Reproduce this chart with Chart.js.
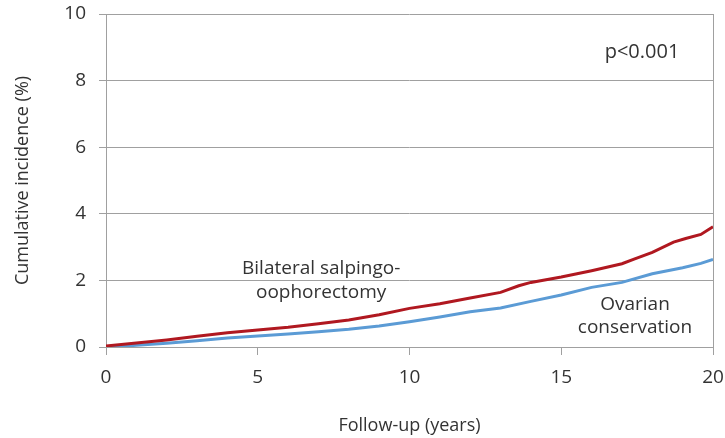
<!DOCTYPE html>
<html>
<head>
<meta charset="utf-8">
<script src="https://cdn.jsdelivr.net/npm/chart.js@4"></script>
<style>
  html, body { margin: 0; padding: 0; background: #fff; }
  #wrap { width: 725px; height: 438px; }
</style>
</head>
<body>
<div id="wrap"><canvas id="c" width="725" height="438"></canvas></div>
<script>
// ---- data ----
const bsoYears  = [0, 1, 2, 3, 4, 5, 6, 7, 8, 9, 10, 11, 12, 13, 13.6, 14, 15, 16, 17, 17.4, 18, 18.7, 19.1, 19.6, 20];
const bsoValues = [0.03, 0.12, 0.21, 0.32, 0.43, 0.51, 0.59, 0.70, 0.81, 0.97, 1.16, 1.30, 1.47, 1.64, 1.84, 1.94, 2.10, 2.29, 2.50, 2.64, 2.84, 3.15, 3.26, 3.38, 3.61];
const ovYears   = [0, 1, 2, 3, 4, 5, 6, 7, 8, 9, 10, 11, 12, 13, 14, 15, 16, 17, 18, 19, 19.6, 20];
const ovValues  = [0.00, 0.05, 0.11, 0.19, 0.27, 0.33, 0.39, 0.46, 0.53, 0.63, 0.76, 0.90, 1.06, 1.17, 1.37, 1.56, 1.79, 1.94, 2.20, 2.38, 2.51, 2.63];
const xTicks = [0, 5, 10, 15, 20];
const yTicks = [0, 2, 4, 6, 8, 10];
const seriesNames = ['Bilateral salpingo-oophorectomy', 'Ovarian conservation'];
const xTitle = 'Follow-up (years)';
const yTitle = 'Cumulative incidence (%)';
const pText = 'p<0.001';

const FONT = '"Open Sans", "Segoe UI", sans-serif';
const TXT = '#333333';
const GRID = '#a0a0a0';

// annotation labels (positions in data space)
const notes = [
  { lines: ['Bilateral salpingo-', 'oophorectomy'], x: 7.09, y: [2.19, 1.47], size: 19 },
  { lines: ['Ovarian', 'conservation'], x: 17.43, y: [1.11, 0.42], size: 19 },
  { lines: [pText], x: 17.66, y: [8.68], size: 20 }
];

const notePlugin = {
  id: 'notes',
  afterDatasetsDraw(chart) {
    const { ctx, scales: { x, y } } = chart;
    ctx.save();
    ctx.fillStyle = TXT;
    ctx.textAlign = 'center';
    ctx.textBaseline = 'alphabetic';
    notes.forEach(n => {
      ctx.font = `${n.size}px ${FONT}`;
      n.lines.forEach((t, i) => ctx.fillText(t, x.getPixelForValue(n.x), y.getPixelForValue(n.y[i])));
    });
    ctx.restore();
  }
};

new Chart(document.getElementById('c'), {
  type: 'line',
  data: {
    datasets: [
      {
        label: seriesNames[0],
        data: bsoYears.map((v, i) => ({ x: v, y: bsoValues[i] })),
        borderColor: '#b01820',
        borderWidth: 3,
        pointRadius: 0,
        tension: 0,
        fill: false
      },
      {
        label: seriesNames[1],
        data: ovYears.map((v, i) => ({ x: v, y: ovValues[i] })),
        borderColor: '#5b9bd5',
        borderWidth: 3,
        pointRadius: 0,
        tension: 0,
        fill: false
      }
    ]
  },
  options: {
    responsive: false,
    animation: false,
    layout: { padding: { top: 14, right: 12, left: 0, bottom: 0 } },
    plugins: {
      legend: { display: false },
      tooltip: { enabled: false }
    },
    scales: {
      x: {
        type: 'linear',
        min: 0, max: 20,
        afterBuildTicks: s => { s.ticks = xTicks.map(v => ({ value: v })); },
        afterFit: s => { s.height = 91; s.paddingLeft = 0; s.paddingRight = 0; },
        border: { display: false },
        grid: {
          drawOnChartArea: true,
          color: c => (c.tick && (c.tick.value === 0 || c.tick.value === 20)) ? GRID : 'rgba(0,0,0,0)',
          tickColor: GRID,
          tickLength: 8,
          lineWidth: 1
        },
        ticks: { color: TXT, font: { family: FONT, size: 19 }, padding: 11, maxRotation: 0 },
        title: { display: true, text: xTitle, color: TXT, font: { family: FONT, size: 18 }, padding: { top: 0, bottom: 1 } }
      },
      y: {
        type: 'linear',
        min: 0, max: 10,
        afterBuildTicks: s => { s.ticks = yTicks.map(v => ({ value: v })); },
        afterFit: s => { s.width = 106; s.paddingTop = 0; s.paddingBottom = 0; },
        border: { display: false },
        grid: { color: GRID, tickColor: GRID, tickLength: 7, lineWidth: 1 },
        ticks: { color: TXT, font: { family: FONT, size: 19 }, padding: 13 },
        title: { display: true, text: yTitle, color: TXT, font: { family: FONT, size: 18 }, padding: { top: 12, bottom: 0 } }
      }
    }
  },
  plugins: [notePlugin]
});
</script>
</body>
</html>
